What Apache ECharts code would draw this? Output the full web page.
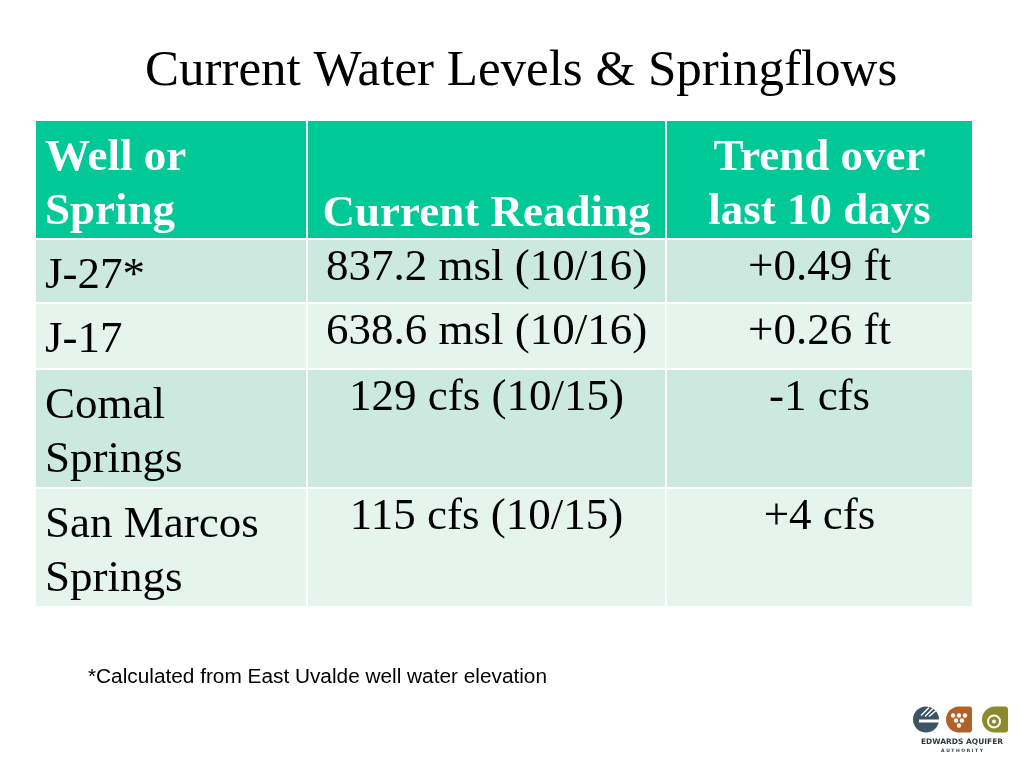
<!DOCTYPE html>
<html><head><meta charset="utf-8">
<script src="https://cdn.jsdelivr.net/npm/echarts@6/dist/echarts.min.js"></script>
<style>html,body{margin:0;padding:0;background:#fff}#c{width:1024px;height:768px}</style>
</head><body><div id="c"></div>
<script>
// ---- data ----
const titleText = 'Current Water Levels & Springflows';
const headers = ['Well or\nSpring', 'Current Reading', 'Trend over\nlast 10 days'];
const wells = ['J-27*', 'J-17', 'Comal\nSprings', 'San Marcos\nSprings'];
const currentReadings = ['837.2 msl (10/16)', '638.6 msl (10/16)', '129 cfs (10/15)', '115 cfs (10/15)'];
const trends = ['+0.49 ft', '+0.26 ft', '-1 cfs', '+4 cfs'];
const footnote = '*Calculated from East Uvalde well water elevation';

// ---- layout (table units) ----
const colWidths = [272, 359, 307];
const rowHeights = [119, 64, 66, 119, 119];
const colEdges = [0]; colWidths.forEach(w => colEdges.push(colEdges[colEdges.length - 1] + w));
const rowEdges = [0]; rowHeights.forEach(h => rowEdges.push(rowEdges[rowEdges.length - 1] + h));

const headerColor = '#00c896';
const darkRow = '#cce9df';
const lightRow = '#e6f4ee';
const serif = '"Liberation Serif", "Times New Roman", serif';

const columns = [wells, currentReadings, trends];
const cells = [];
for (let c = 0; c < 3; c++) cells.push([c, 0, headers[c]]);
for (let r = 0; r < wells.length; r++)
  for (let c = 0; c < 3; c++) cells.push([c, r + 1, columns[c][r]]);

const chart = echarts.init(document.getElementById('c'), null, {renderer: 'canvas'});

function renderItem(params, api) {
  const c = api.value(0), r = api.value(1);
  const text = cells[params.dataIndex][2];
  const p0 = api.coord([colEdges[c], rowEdges[r]]);
  const p1 = api.coord([colEdges[c + 1], rowEdges[r + 1]]);
  const x0 = p0[0], y0 = p0[1], x1 = p1[0], y1 = p1[1];
  const isHeader = r === 0;
  const fill = isHeader ? headerColor : (r % 2 === 1 ? darkRow : lightRow);
  let tx, align, ty, valign;
  if (c === 0) { tx = x0 + 10; align = 'left'; } else { tx = (x0 + x1) / 2; align = 'center'; }
  if (isHeader) {
    if (c === 1) { ty = y1 + 2; valign = 'bottom'; } else { ty = y0 + 11; valign = 'top'; }
  } else {
    if (c === 0) { ty = y0 + 10; } else { ty = y0 + 2; }
    valign = 'top';
  }
  return {
    type: 'group',
    children: [
      { type: 'rect', shape: { x: x0, y: y0, width: x1 - x0, height: y1 - y0 },
        style: { fill: fill, stroke: '#ffffff', lineWidth: 2 } },
      { type: 'text', z2: 10, style: {
          text: text, x: tx, y: ty, align: align, verticalAlign: valign,
          fontFamily: serif, fontSize: 45, fontWeight: isHeader ? 'bold' : 'normal',
          lineHeight: 54, fill: isHeader ? '#ffffff' : '#000000' } }
    ]
  };
}

// measure footnote for width fit (Calibri substitute)
const mctx = document.createElement('canvas').getContext('2d');
mctx.font = '20px "Liberation Sans"';
const fnScale = 459 / mctx.measureText(footnote).width;

chart.setOption({
  animation: false,
  backgroundColor: '#ffffff',
  title: {
    text: titleText, left: 140, top: 41,
    textStyle: { fontFamily: serif, fontSize: 51, fontWeight: 'normal', color: '#000000' }
  },
  grid: { left: 35, top: 120, width: colEdges[3], height: rowEdges[rowEdges.length - 1], containLabel: false },
  xAxis: { type: 'value', min: 0, max: colEdges[3], show: false },
  yAxis: { type: 'value', min: 0, max: rowEdges[rowEdges.length - 1], inverse: true, show: false },
  series: [{
    type: 'custom',
    renderItem: renderItem,
    data: cells.map(d => [d[0], d[1]]),
    encode: { x: 0, y: 1 },
    clip: false
  }],
  graphic: [
    { type: 'text', left: 88, top: 667, scaleX: fnScale,
      style: { text: footnote, fontFamily: '"Liberation Sans", sans-serif', fontSize: 20, fill: '#000000' } },
    // logo (decorative)
    { type: 'group', left: 913, top: 705, children: [
      { type: 'circle', shape: { cx: 13, cy: 14, r: 13 }, style: { fill: '#3c5564' } },
      { type: 'rect', shape: { x: 6, y: 14, width: 20, height: 3 }, style: { fill: '#ffffff' } },
      { type: 'line', shape: { x1: 8, y1: 10, x2: 16, y2: 2 }, style: { stroke: '#ffffff', lineWidth: 1.5 } },
      { type: 'line', shape: { x1: 12, y1: 11, x2: 20, y2: 3 }, style: { stroke: '#ffffff', lineWidth: 1.5 } },
      { type: 'line', shape: { x1: 16, y1: 11, x2: 23, y2: 5 }, style: { stroke: '#ffffff', lineWidth: 1.5 } },
      { type: 'rect', shape: { x: 33, y: 1, width: 26, height: 26, r: [13, 3, 3, 13] }, style: { fill: '#b0612a' } },
      { type: 'circle', shape: { cx: 40, cy: 10, r: 2.2 }, style: { fill: '#ffffff' } },
      { type: 'circle', shape: { cx: 46, cy: 10, r: 2.2 }, style: { fill: '#ffffff' } },
      { type: 'circle', shape: { cx: 52, cy: 10, r: 2.2 }, style: { fill: '#ffffff' } },
      { type: 'circle', shape: { cx: 43, cy: 15, r: 2.2 }, style: { fill: '#ffffff' } },
      { type: 'circle', shape: { cx: 49, cy: 15, r: 2.2 }, style: { fill: '#ffffff' } },
      { type: 'circle', shape: { cx: 46, cy: 20, r: 2.2 }, style: { fill: '#ffffff' } },
      { type: 'rect', shape: { x: 69, y: 1, width: 26, height: 26, r: [13, 3, 3, 13] }, style: { fill: '#8c8a2c' } },
      { type: 'circle', shape: { cx: 81, cy: 16, r: 6 }, style: { fill: 'none', stroke: '#ffffff', lineWidth: 2 } },
      { type: 'circle', shape: { cx: 81, cy: 16, r: 2 }, style: { fill: '#ffffff' } },
      { type: 'text', x: 49, y: 33, style: { text: 'EDWARDS AQUIFER', align: 'center', fontFamily: '"DejaVu Sans", sans-serif', fontSize: 7.5, fontWeight: 'bold', fill: '#2d3a40' } },
      { type: 'text', x: 49, y: 43, style: { text: 'A U T H O R I T Y', align: 'center', fontFamily: '"DejaVu Sans", sans-serif', fontSize: 4.5, fontWeight: 'bold', fill: '#2d3a40' } }
    ]}
  ]
});
</script>
</body></html>
